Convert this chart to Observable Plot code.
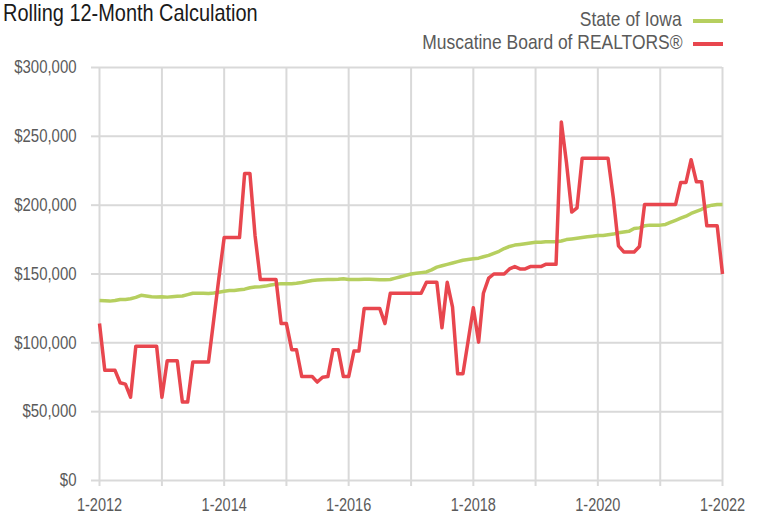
<!DOCTYPE html>
<html><head><meta charset="utf-8">
<script src="https://cdn.jsdelivr.net/npm/d3@7"></script>
<script src="https://cdn.jsdelivr.net/npm/@observablehq/plot@0.6"></script>
<style>
body{margin:0;background:#fff;}
#wrap{position:relative;width:759px;height:515px;font-family:"Liberation Sans",Arial,sans-serif;overflow:hidden;}
#head{position:relative;height:55px;}
.t{position:absolute;white-space:nowrap;}
.t span{display:inline-block;}
#title{left:3px;top:1px;font-size:24px;line-height:24px;color:#1a1a1a;}
#title span{transform:scaleX(0.83);transform-origin:0 50%;}
.leg{right:77px;font-size:21px;line-height:21px;color:#5a5a5a;}
.leg span{transform:scaleX(0.83);transform-origin:100% 50%;}
.sw{position:absolute;left:693px;width:30px;height:4px;}
#chart svg{display:block;}
</style>
</head><body>
<div id="wrap">
  <div id="head">
    <div class="t" id="title"><span id="titleText"></span></div>
    <div class="t leg" style="top:8px"><span id="leg1"></span></div>
    <div class="sw" id="sw1" style="top:19px"></div>
    <div class="t leg" style="top:31px"><span id="leg2"></span></div>
    <div class="sw" id="sw2" style="top:41.5px"></div>
  </div>
  <div id="chart"></div>
</div>
<script>
const titleText = "Rolling 12-Month Calculation";
// Series names and colours
const seriesNames = ["State of Iowa", "Muscatine Board of REALTORS®"];
const seriesColors = ["#b6cf5f", "#e8464e"];

// Monthly values, January 2012 through January 2022 (rolling 12-month)
const iowa = [
  130700,130500,130300,130800,131500,131500,132000,133000,134500,134000,133500,133300,
  133500,133200,133500,133800,134000,135000,136000,136000,136000,135800,136200,136800,
  137500,138000,138000,138500,139000,140000,140500,140800,141200,142000,142500,143000,
  143000,143000,143300,143800,144500,145300,145600,145800,146000,146000,146200,146500,
  146000,146000,146000,146200,146200,146000,145800,145800,146000,147000,148000,149000,
  150000,150500,151000,151500,153000,155000,156000,157000,158000,159000,160000,160500,
  161000,161500,162500,163500,165000,166500,168500,170000,171000,171500,172000,172500,
  173000,173000,173500,173500,173500,174000,175000,175500,176000,176500,177000,177500,
  178000,178000,178500,179000,180000,180500,181000,183000,183500,185000,185500,185500,
  185500,186000,187500,189000,190500,192000,194000,195500,197000,199000,200000,200500,
  200500
];
const muscatine = [
  114000,80000,80000,80000,71000,70000,60500,97500,97500,97500,97500,97500,
  60500,87000,87000,87000,57000,57000,86000,86000,86000,86000,117000,147000,
  176500,176500,176500,176500,223000,223000,178000,146000,146000,146000,146000,114000,
  114000,95000,95000,75500,75500,75500,71500,75000,75500,95000,95000,75500,
  75500,94000,94000,125000,125000,125000,125000,114000,136000,136000,136000,136000,
  136000,136000,136000,144000,144000,144000,111000,144000,126000,77500,77500,101000,
  125500,100500,136000,147000,150000,150000,150000,153700,155400,153700,153700,155400,
  155400,155400,157000,157000,157000,260500,231000,195000,198000,234000,234000,234000,
  234000,234000,234000,205000,170500,166000,166000,166000,170000,200500,200500,200500,
  200500,200500,200500,200500,216500,216500,233000,217000,217000,185000,185000,185000,
  150000
];

// Axis ticks
const yTicks = [0, 50000, 100000, 150000, 200000, 250000, 300000];
const xTickYears = [2012,2013,2014,2015,2016,2017,2018,2019,2020,2021,2022];
const xLabelYears = [2012,2014,2016,2018,2020,2022];

document.getElementById("titleText").textContent = titleText;
document.getElementById("leg1").textContent = seriesNames[0];
document.getElementById("leg2").textContent = seriesNames[1];
document.getElementById("sw1").style.background = seriesColors[0];
document.getElementById("sw2").style.background = seriesColors[1];

const start = new Date(Date.UTC(2012, 0, 1));
const monthDate = i => d3.utcMonth.offset(start, i);
const rows = [];
iowa.forEach((v, i) => rows.push({series: seriesNames[0], date: monthDate(i), value: v}));
muscatine.forEach((v, i) => rows.push({series: seriesNames[1], date: monthDate(i), value: v}));

const xTicks = xTickYears.map(y => new Date(Date.UTC(y, 0, 1)));
const font = '"Liberation Sans",Arial,sans-serif';
const gridColor = "#d9d9d9";
const textColor = "#5a5a5a";

const chart = Plot.plot({
  width: 759,
  height: 460,
  marginTop: 12,
  marginBottom: 35,
  marginLeft: 99,
  marginRight: 37,
  style: {fontFamily: font, fontSize: "18px", color: textColor, background: "white", overflow: "visible"},
  x: {type: "utc", domain: [xTicks[0], xTicks[xTicks.length - 1]]},
  y: {domain: [0, 300000]},
  color: {domain: seriesNames, range: seriesColors},
  marks: [
    Plot.gridY(yTicks, {stroke: gridColor, strokeWidth: 2, strokeOpacity: 1}),
    Plot.gridX(xTicks, {stroke: gridColor, strokeWidth: 2, strokeOpacity: 1}),
    Plot.axisY(yTicks, {
      tickSize: 8, tickPadding: 15, stroke: gridColor, strokeWidth: 2, strokeOpacity: 1,
      fill: textColor, fontSize: 18, label: null,
      tickFormat: d => "$" + d3.format(",")(d)
    }),
    Plot.axisX(xTicks, {
      tickSize: 6, tickPadding: 12, stroke: gridColor, strokeWidth: 2, strokeOpacity: 1,
      fill: textColor, fontSize: 17.5, label: null,
      tickFormat: d => xLabelYears.includes(d.getUTCFullYear()) ? "1-" + d.getUTCFullYear() : ""
    }),
    Plot.lineY(rows, {x: "date", y: "value", z: "series", stroke: "series", strokeWidth: 3.5, strokeLinejoin: "round", strokeLinecap: "butt"})
  ]
});
document.getElementById("chart").appendChild(chart);

// Condense the axis labels horizontally (narrow typeface look)
chart.querySelectorAll("text").forEach(t => {
  if (!t.textContent) return;
  const len = t.getComputedTextLength();
  if (len > 0) {
    t.setAttribute("textLength", (len * 0.83).toFixed(2));
    t.setAttribute("lengthAdjust", "spacingAndGlyphs");
  }
});
</script>
</body></html>
